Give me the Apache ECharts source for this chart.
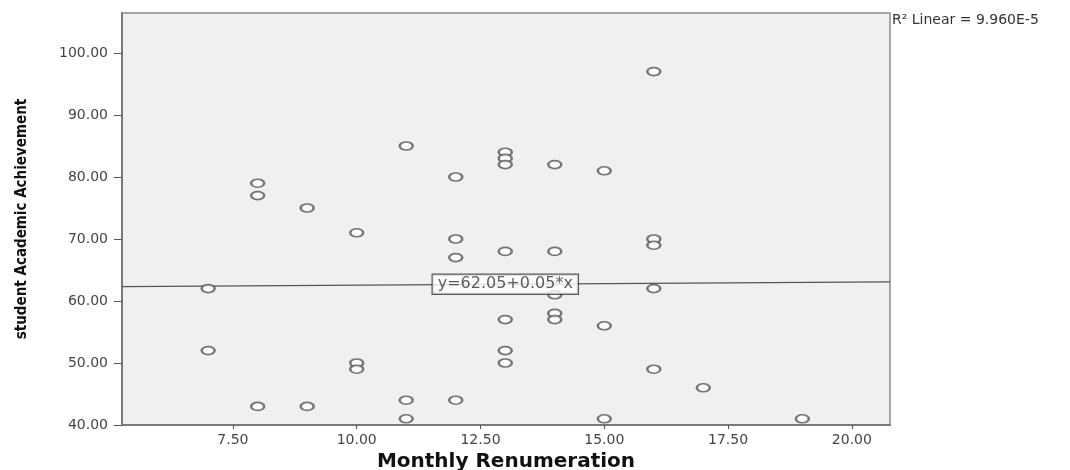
<!DOCTYPE html>
<html>
<head>
<meta charset="utf-8">
<script src="https://cdn.jsdelivr.net/npm/echarts@6/dist/echarts.min.js"></script>
<style>
  html, body { margin: 0; padding: 0; background: #fff; }
  #chart { width: 1070px; height: 470px; }
</style>
</head>
<body>
<div id="chart"></div>
<script>
// Monthly Renumeration (x) vs student Academic Achievement (y)
const remuneration = [
  7, 7,
  8, 8, 8,
  9, 9,
  10, 10, 10,
  11, 11, 11,
  12, 12, 12, 12,
  13, 13, 13, 13, 13, 13, 13,
  14, 14, 14, 14, 14,
  15, 15, 15,
  16, 16, 16, 16, 16,
  17,
  19
]
const achievement = [
  62, 52,
  79, 77, 43,
  75, 43,
  71, 50, 49,
  85, 44, 41,
  80, 70, 67, 44,
  84, 83, 82, 68, 57, 52, 50,
  82, 68, 61, 58, 57,
  81, 56, 41,
  97, 70, 69, 62, 49,
  46,
  41
]
const xTicks = [7.5, 10, 12.5, 15, 17.5, 20]
const yTicks = [40, 50, 60, 70, 80, 90, 100]

// fit line y = intercept + slope * x
const intercept = 62.05
const slope = 0.05
const fitLabel = 'y=62.05+0.05*x'
const fitLabelX = 13
const r2Text = 'R\u00b2 Linear = 9.960E-5'

const xMin = 5.26
const xMax = 20.77
const yMin = 40
const yMax = 106.45

const points = remuneration.map((x, i) => [x, achievement[i]])
const fitLine = [
  [xMin, intercept + slope * xMin],
  [xMax, intercept + slope * xMax],
]

const chart = echarts.init(document.getElementById('chart'))
chart.setOption({
  animation: false,
  grid: {
    left: 122,
    top: 13,
    right: 180,
    bottom: 45,
    outerBoundsMode: 'none',
    show: true,
    backgroundColor: '#f0f0f0',
    borderColor: '#8a8a8a',
    borderWidth: 1.5,
  },
  xAxis: {
    type: 'value',
    min: xMin,
    max: xMax,
    name: 'Monthly Renumeration',
    nameLocation: 'middle',
    nameGap: 25,
    nameTextStyle: {
      fontFamily: 'DejaVu Sans',
      fontWeight: 'bold',
      fontSize: 20,
      color: '#111',
    },
    axisLine: { show: true, lineStyle: { color: '#7a7a7a', width: 2 } },
    axisTick: { show: true, length: 4, customValues: xTicks, lineStyle: { color: '#555' } },
    axisLabel: {
      customValues: xTicks,
      formatter: v => v.toFixed(2),
      fontFamily: 'DejaVu Sans',
      fontSize: 14,
      color: '#444',
      margin: 8,
    },
    splitLine: { show: false },
  },
  yAxis: {
    type: 'value',
    min: yMin,
    max: yMax,
    name: 'student Academic Achievement',
    nameLocation: 'middle',
    nameGap: 92,
    nameTextStyle: {
      fontFamily: 'DejaVu Sans Condensed',
      fontWeight: 'bold',
      fontSize: 15,
      color: '#111',
    },
    axisLine: { show: true, lineStyle: { color: '#7a7a7a', width: 2 } },
    axisTick: { show: true, length: 8, customValues: yTicks, lineStyle: { color: '#555' } },
    axisLabel: {
      customValues: yTicks,
      formatter: v => v.toFixed(2),
      fontFamily: 'DejaVu Sans',
      fontSize: 14,
      color: '#444',
      margin: 14,
    },
    splitLine: { show: false },
  },
  series: [
    {
      type: 'line',
      data: fitLine,
      symbol: 'none',
      lineStyle: { color: '#555', width: 1.3 },
      z: 2,
    },
    {
      type: 'scatter',
      data: points,
      symbol: 'emptyCircle',
      symbolSize: [13, 8],
      itemStyle: { color: '#555', borderWidth: 1.5 },
      z: 3,
    },
    {
      type: 'scatter',
      data: [[fitLabelX, intercept + slope * fitLabelX]],
      symbolSize: 0,
      label: {
        show: true,
        position: 'inside',
        formatter: fitLabel,
        fontFamily: 'DejaVu Sans',
        fontSize: 16,
        color: '#333',
        backgroundColor: '#fff',
        borderColor: '#333',
        borderWidth: 1.2,
        padding: [2, 5, 1, 5],
      },
      z: 5,
    },
  ],
  graphic: [
    {
      type: 'text',
      left: 892,
      top: 13,
      style: {
        text: r2Text,
        font: '14px "DejaVu Sans"',
        fill: '#333',
      },
    },
  ],
})
</script>
</body>
</html>
